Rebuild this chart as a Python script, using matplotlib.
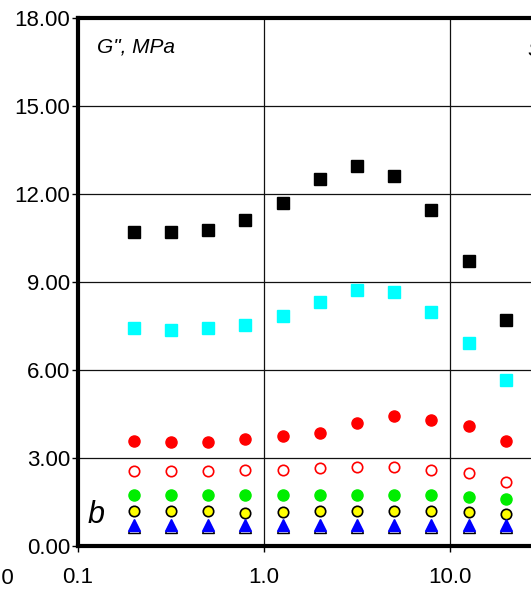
import numpy as np
import matplotlib.pyplot as plt

plt.rcParams['font.family'] = ['Liberation Sans', 'DejaVu Sans']

# frequency points
freq = [0.2, 0.315, 0.5, 0.794, 1.26, 2.0, 3.15, 5.0, 7.94, 12.6, 20.0]

black_sq = [10.72, 10.72, 10.77, 11.11, 11.68, 12.51, 12.97, 12.61, 11.44, 9.72, 7.69]
cyan_sq = [7.43, 7.36, 7.43, 7.53, 7.83, 8.33, 8.72, 8.66, 7.99, 6.93, 5.65]
red_fill = [3.58, 3.54, 3.54, 3.65, 3.76, 3.86, 4.20, 4.43, 4.31, 4.09, 3.58]
red_open = [2.55, 2.55, 2.55, 2.59, 2.58, 2.65, 2.70, 2.70, 2.58, 2.48, 2.19]
green = [1.75, 1.75, 1.75, 1.75, 1.75, 1.75, 1.75, 1.75, 1.75, 1.68, 1.59]
yellow = [1.19, 1.19, 1.19, 1.14, 1.15, 1.19, 1.19, 1.19, 1.19, 1.15, 1.08]
open_tri = [0.64, 0.64, 0.64, 0.64, 0.64, 0.64, 0.64, 0.64, 0.64, 0.64, 0.64]
blue_tri = [0.72, 0.72, 0.72, 0.72, 0.72, 0.72, 0.72, 0.72, 0.72, 0.72, 0.72]

yticks = [0, 3, 6, 9, 12, 15, 18]
xticks = [0.1, 1.0, 10.0]

fig = plt.figure(figsize=(5.31, 5.93), dpi=100)
# axes runs past the right edge of the picture (cropped figure)
ax = fig.add_axes([78/531, 47/593, 558/531, 528/593])

ms = 8
ax.plot(freq, black_sq, 's', color='black', ms=ms, mec='black', zorder=3)
ax.plot(freq, cyan_sq, 's', color='#00ffff', ms=ms, mec='#00ffff', zorder=3)
ax.plot(freq, red_fill, 'o', color='#ff0000', ms=ms, mec='#ff0000', zorder=3)
ax.plot(freq, red_open, 'o', mfc='white', mec='#ff0000', mew=1.2, ms=ms - 0.5, zorder=3)
ax.plot(freq, green, 'o', color='#00ee00', ms=ms, mec='#00ee00', zorder=3)
ax.plot(freq, yellow, 'o', mfc='#ffff00', mec='black', mew=1.2, ms=ms - 0.5, zorder=3)
ax.plot(freq, open_tri, '^', mfc='white', mec='black', mew=1.0, ms=ms, zorder=3)
ax.plot(freq, blue_tri, '^', color='#0000ff', mec='#0000ff', ms=ms + 0.5, zorder=4)

ax.set_xscale('log')
ax.set_xlim(0.1, 100)
ax.set_ylim(0, 18)
ax.set_yticks(yticks)
ax.set_yticklabels(['%.2f' % v for v in yticks])
ax.set_xticks(xticks)
ax.set_xticklabels(['%.1f' % v for v in xticks])
ax.xaxis.set_minor_locator(plt.NullLocator())

ax.grid(True, which='major', color='#111111', linewidth=0.9)
ax.set_axisbelow(True)

for s in ['top', 'bottom', 'left', 'right']:
    ax.spines[s].set_linewidth(3)
ax.tick_params(axis='both', which='major', direction='out', length=4, width=1,
               labelsize=16, pad=1.5)
ax.tick_params(axis='x', pad=11)

ax.text(0.1265, 17.0, 'G", MPa', fontsize=15, style='italic', va='center')
ax.text(0.113, 1.05, 'b', fontsize=22, style='italic', va='center')
ax.text(26, 16.9, 'S', fontsize=15, style='italic', va='center')

# tick label of the neighbouring panel, cut at the left edge
fig.text(14/531, 1 - 578/593, '100.0', fontsize=16, ha='right', va='center')

fig.savefig('out.png', dpi=100)
